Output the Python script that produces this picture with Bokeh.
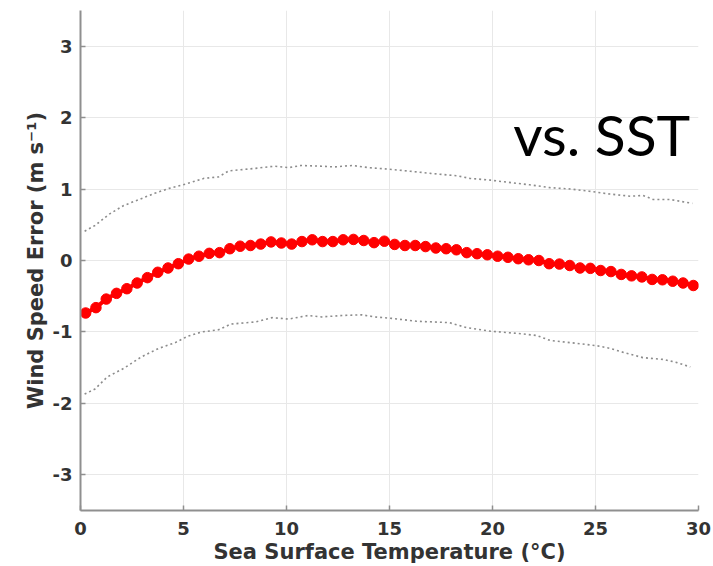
from bokeh.plotting import figure
from bokeh.models import Label, Range1d, FixedTicker, CustomJSTickFormatter
from bokeh.embed import file_html
from bokeh.resources import INLINE

# Bin-centre sea surface temperatures (deg C)
sst = [0.25, 0.75, 1.25, 1.75, 2.25, 2.75, 3.25, 3.75, 4.25, 4.75,
       5.25, 5.75, 6.25, 6.75, 7.25, 7.75, 8.25, 8.75, 9.25, 9.75,
       10.25, 10.75, 11.25, 11.75, 12.25, 12.75, 13.25, 13.75, 14.25, 14.75,
       15.25, 15.75, 16.25, 16.75, 17.25, 17.75, 18.25, 18.75, 19.25, 19.75,
       20.25, 20.75, 21.25, 21.75, 22.25, 22.75, 23.25, 23.75, 24.25, 24.75,
       25.25, 25.75, 26.25, 26.75, 27.25, 27.75, 28.25, 28.75, 29.25, 29.75]

# Mean wind speed error (m/s)
mean_err = [-0.735, -0.66, -0.54, -0.46, -0.395, -0.315, -0.24, -0.165, -0.105, -0.045,
            0.02, 0.06, 0.10, 0.11, 0.165, 0.20, 0.21, 0.23, 0.26, 0.245,
            0.23, 0.265, 0.29, 0.265, 0.265, 0.29, 0.295, 0.28, 0.25, 0.27,
            0.225, 0.21, 0.21, 0.195, 0.175, 0.165, 0.15, 0.11, 0.095, 0.08,
            0.06, 0.045, 0.025, 0.01, 0.0, -0.045, -0.05, -0.07, -0.105, -0.11,
            -0.14, -0.155, -0.195, -0.215, -0.23, -0.265, -0.27, -0.29, -0.315, -0.35]

# Upper dotted envelope
upper_x = [0.2, 0.7, 1.4, 2.1, 2.9, 3.6, 4.3, 5.1, 6.0, 6.7, 7.2, 8.5, 9.4, 10.1,
           10.7, 11.7, 12.3, 13.2, 14.0, 14.9, 16.0, 17.0, 18.3, 18.9, 19.9, 20.9,
           21.8, 22.8, 23.8, 24.7, 25.7, 26.7, 27.3, 27.8, 28.6, 29.7]
upper_y = [0.41, 0.49, 0.65, 0.77, 0.86, 0.94, 1.01, 1.07, 1.15, 1.17, 1.255, 1.29, 1.32, 1.30,
           1.33, 1.32, 1.31, 1.33, 1.30, 1.28, 1.25, 1.22, 1.185, 1.15, 1.125, 1.09,
           1.06, 1.02, 1.0, 0.97, 0.93, 0.90, 0.91, 0.855, 0.855, 0.80]

# Lower dotted envelope
lower_x = [0.2, 0.7, 1.3, 2.1, 2.95, 3.8, 4.6, 5.2, 5.9, 6.7, 7.3, 8.5, 9.3, 10.1,
           11.05, 11.7, 12.7, 13.65, 14.3, 15.1, 16.3, 17.9, 18.75, 19.9, 21.2,
           22.15, 22.8, 24.1, 25.1, 25.7, 26.4, 27.3, 28.3, 28.96, 29.6]
lower_y = [-1.87, -1.80, -1.63, -1.51, -1.35, -1.23, -1.15, -1.06, -1.0, -0.97, -0.89, -0.86, -0.80, -0.82,
           -0.77, -0.79, -0.77, -0.76, -0.79, -0.81, -0.85, -0.87, -0.94, -0.99, -1.02,
           -1.05, -1.12, -1.16, -1.195, -1.23, -1.29, -1.36, -1.385, -1.43, -1.49]

x_ticks = [0, 5, 10, 15, 20, 25, 30]
y_ticks = [-3, -2, -1, 0, 1, 2, 3]

p = figure(width=713, height=566, output_backend="svg", toolbar_location=None,
           x_range=Range1d(0, 30), y_range=Range1d(-3.5, 3.5),
           min_border_left=80, min_border_right=15, min_border_top=10, min_border_bottom=55)
p.outline_line_color = None
p.background_fill_color = "white"
p.border_fill_color = "white"

p.xaxis.ticker = FixedTicker(ticks=x_ticks)
p.yaxis.ticker = FixedTicker(ticks=y_ticks)
p.xaxis.axis_label = "Sea Surface Temperature (°C)"
p.yaxis.axis_label = "Wind Speed Error (m s⁻¹)"

for ax in (p.xaxis, p.yaxis):
    ax.formatter = CustomJSTickFormatter(code="return tick.toString();")
    ax.axis_line_color = "#8f8f8f"
    ax.axis_line_width = 2
    ax.major_tick_line_color = "#8f8f8f"
    ax.major_tick_line_width = 1.5
    ax.major_tick_in = 5
    ax.major_tick_out = 0
    ax.minor_tick_line_color = None
    ax.major_label_text_font = "DejaVu Sans"
    ax.major_label_text_font_style = "bold"
    ax.major_label_text_font_size = "18px"
    ax.major_label_text_color = "#333333"
    ax.axis_label_text_font = "DejaVu Sans"
    ax.axis_label_text_font_style = "bold"
    ax.axis_label_text_font_size = "21px"
    ax.axis_label_text_color = "#333333"
    ax.axis_label_standoff = 2

p.xaxis.major_label_standoff = 11
p.yaxis.major_label_standoff = 8

p.xgrid.grid_line_color = "#e8e8e8"
p.ygrid.grid_line_color = "#e8e8e8"
p.xgrid.grid_line_width = 1
p.ygrid.grid_line_width = 1

p.line(upper_x, upper_y, line_color="#8c8c8c", line_width=1.6, line_dash="2 3")
p.line(lower_x, lower_y, line_color="#8c8c8c", line_width=1.6, line_dash="2 3")

p.line(sst, mean_err, line_color="#ff0000", line_width=4)
p.scatter(sst, mean_err, size=10.5, fill_color="#ff0000", line_color="#ff0000")

p.add_layout(Label(x=29.6, y=1.77, text="vs. SST", text_align="right",
                   text_baseline="alphabetic", text_font="Lato",
                   text_font_size="57px", text_color="black"))

open("out.html", "w").write(file_html(p, INLINE))
